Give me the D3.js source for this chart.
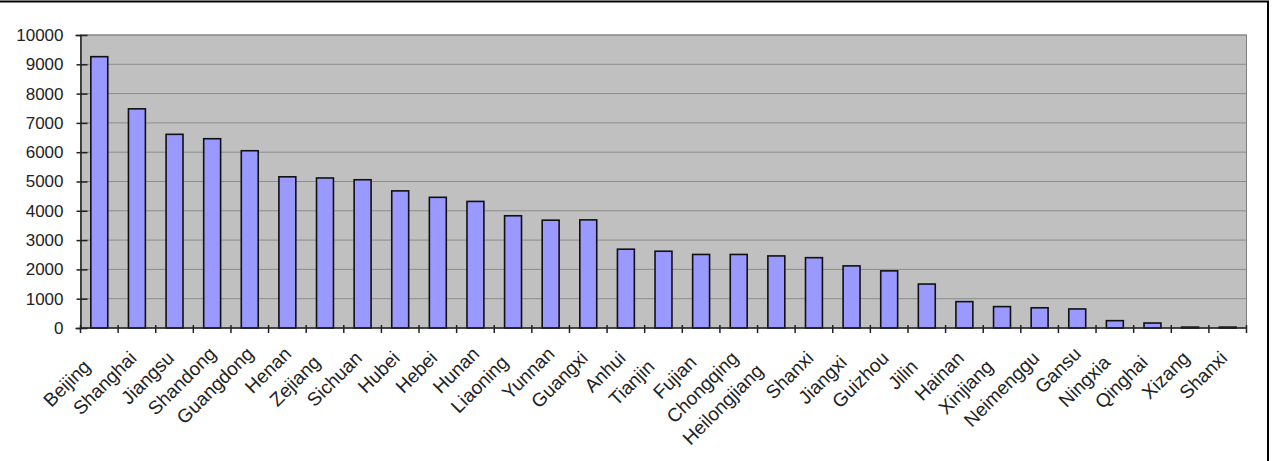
<!DOCTYPE html>
<html>
<head>
<meta charset="utf-8">
<title>Provinces</title>
<style>
  body { margin: 0; background: #fff; }
  svg { display: block; font-family: "Liberation Sans", Arial, sans-serif; }
</style>
</head>
<body>
<script src="https://cdn.jsdelivr.net/npm/d3@7"></script>
<script>
// data
var provinces = ["Beijing", "Shanghai", "Jiangsu", "Shandong", "Guangdong", "Henan", "Zejiang",
  "Sichuan", "Hubei", "Hebei", "Hunan", "Liaoning", "Yunnan", "Guangxi", "Anhui", "Tianjin",
  "Fujian", "Chongqing", "Heilongjiang", "Shanxi", "Jiangxi", "Guizhou", "Jilin", "Hainan",
  "Xinjiang", "Neimenggu", "Gansu", "Ningxia", "Qinghai", "Xizang", "Shanxi "];
var values = [9260, 7480, 6610, 6460, 6050, 5160, 5120, 5060, 4680, 4460, 4320, 3830, 3680,
  3690, 2690, 2620, 2510, 2510, 2460, 2400, 2120, 1950, 1500, 900, 730, 690, 650, 250, 170, 30, 30];
var yTicks = [0, 1000, 2000, 3000, 4000, 5000, 6000, 7000, 8000, 9000, 10000];

var w = 1274, h = 461;
var margin = {top: 35, right: 27.5, bottom: 133, left: 80.5};

var svg = d3.select("body").append("svg")
  .attr("width", w)
  .attr("height", h);

// outer frame
svg.append("rect")
  .attr("x", -3).attr("y", 1.5)
  .attr("width", 1271).attr("height", 480)
  .attr("fill", "none")
  .attr("stroke", "#000")
  .attr("stroke-width", 2);

var x = d3.scaleBand()
  .domain(d3.range(provinces.length))
  .range([margin.left, w - margin.right])
  .paddingInner(0.55)
  .paddingOuter(0.275);

var y = d3.scaleLinear()
  .domain([0, 10000])
  .range([h - margin.bottom, margin.top]);

// plot area
svg.append("rect")
  .attr("x", margin.left).attr("y", y(10000))
  .attr("width", w - margin.right - margin.left)
  .attr("height", y(0) - y(10000))
  .attr("fill", "#c0c0c0")
  .attr("stroke", "#808080")
  .attr("stroke-width", 1);

// gridlines
svg.append("g")
  .selectAll("line")
  .data(yTicks.slice(1))
  .enter().append("line")
  .attr("x1", margin.left).attr("x2", w - margin.right)
  .attr("y1", function(d) { return y(d); })
  .attr("y2", function(d) { return y(d); })
  .attr("stroke", "#8c8c8c")
  .attr("stroke-width", 1);

// bars
svg.append("g")
  .selectAll("rect")
  .data(values)
  .enter().append("rect")
  .attr("x", function(d, i) { return x(i); })
  .attr("y", function(d) { return y(d); })
  .attr("width", x.bandwidth())
  .attr("height", function(d) { return y(0) - y(d); })
  .attr("fill", "#9999ff")
  .attr("stroke", "#111")
  .attr("stroke-width", 1.6);

// y axis
var yAxis = d3.axisLeft(y).tickValues(yTicks).tickFormat(d3.format("d")).tickSize(5).tickPadding(12);
var gy = svg.append("g")
  .attr("transform", "translate(" + margin.left + ",0)")
  .call(yAxis);
gy.select(".domain").attr("stroke", "#222").attr("stroke-width", 1.5);
gy.selectAll(".tick line").attr("stroke", "#222").attr("stroke-width", 1.5).attr("x2", 7).attr("x1", -4);
gy.selectAll("text").attr("font-size", "17px").attr("fill", "#222")
  .attr("font-family", "Liberation Sans, Arial, sans-serif");

// x axis: ticks between categories
var step = x.step();
var tickPos = d3.range(provinces.length + 1).map(function(k) { return margin.left + k * step; });
var gx = svg.append("g");
gx.append("line")
  .attr("x1", margin.left).attr("x2", w - margin.right)
  .attr("y1", y(0)).attr("y2", y(0))
  .attr("stroke", "#222").attr("stroke-width", 1.5);
gx.selectAll("line.tk")
  .data(tickPos)
  .enter().append("line")
  .attr("class", "tk")
  .attr("x1", function(d) { return d; }).attr("x2", function(d) { return d; })
  .attr("y1", y(0) - 3).attr("y2", y(0) + 5)
  .attr("stroke", "#222").attr("stroke-width", 1.5);

// category labels; narrow letters (i, j, l) were laid out wider in the original,
// so labels with many of them sit further down the slope
gx.selectAll("text")
  .data(provinces)
  .enter().append("text")
  .attr("transform", function(d, i) {
    return "translate(" + (x(i) + x.bandwidth() / 2 + 5) + "," + (y(0) + 27) + ") rotate(-45)";
  })
  .attr("dx", function(d) { return -6 * (d.match(/[ijl]/g) || []).length; })
  .attr("text-anchor", "end")
  .attr("font-size", "19px")
  .attr("fill", "#222")
  .text(function(d) { return d.trim(); });
</script>
</body>
</html>
